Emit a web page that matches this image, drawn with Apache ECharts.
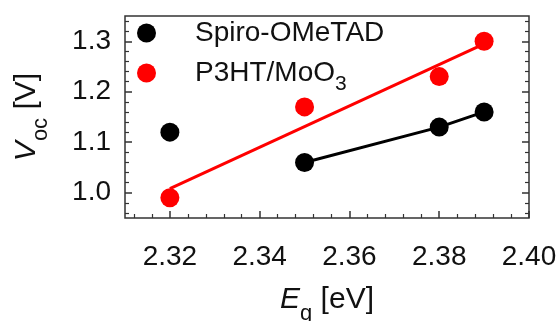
<!DOCTYPE html>
<html>
<head>
<meta charset="utf-8">
<script src="https://cdn.jsdelivr.net/npm/echarts@6/dist/echarts.min.js"></script>
<style>
  html, body { margin: 0; padding: 0; background: #fff; }
  #chart { width: 556px; height: 321px; }
</style>
</head>
<body>
<div id="chart"></div>
<script>
// measured points (Eg [eV], Voc [V])
const spiroPts = [[2.32, 1.12], [2.35, 1.06], [2.38, 1.13], [2.39, 1.16]];
const p3htPts = [[2.32, 0.99], [2.35, 1.17], [2.38, 1.23], [2.39, 1.30]];

// lines drawn in the figure
const spiroLine = [[2.35, 1.06], [2.38, 1.13], [2.39, 1.16]];
const p3htLine = [[2.32, 1.008], [2.39, 1.295]];

// axis ticks
const xMajor = [2.32, 2.34, 2.36, 2.38, 2.40];
const xMinor = [2.312, 2.316, 2.324, 2.328, 2.332, 2.336, 2.344, 2.348, 2.352, 2.356,
  2.364, 2.368, 2.372, 2.376, 2.384, 2.388, 2.392, 2.396];
const yMajor = [1.0, 1.1, 1.2, 1.3];
const yMinor = [0.96, 0.98, 1.02, 1.04, 1.06, 1.08, 1.12, 1.14, 1.16, 1.18,
  1.22, 1.24, 1.26, 1.28, 1.32, 1.34];

const FONT = "Liberation Sans";
const TXT = "#111";
const FRAME = "#333";

const chart = echarts.init(document.getElementById("chart"));

const xBase = { type: "value", min: 2.31, max: 2.40, gridIndex: 0, position: "bottom", splitLine: { show: false }, axisLine: { show: false } };
const yBase = { type: "value", min: 0.95, max: 1.35, gridIndex: 0, splitLine: { show: false }, axisLine: { show: false } };

// rich styles for titles with a subscript (small token height + bottom align pushes it down)
const titleRich = {
  i: { fontFamily: FONT, fontSize: 30, fontStyle: "italic", color: TXT, lineHeight: 32 },
  s: { fontFamily: FONT, fontSize: 22, color: TXT, height: 4, lineHeight: 4, verticalAlign: "bottom" },
  n: { fontFamily: FONT, fontSize: 30, color: TXT, lineHeight: 32 },
};

const option = {
  animation: false,
  backgroundColor: "#fff",
  grid: {
    left: 125, right: 27, top: 16, bottom: 103,
    outerBoundsMode: "none",
    show: true, borderColor: FRAME, borderWidth: 1.5, backgroundColor: "transparent",
  },
  legend: {
    orient: "vertical",
    left: 137,
    top: 19,
    padding: 0,
    itemWidth: 19,
    itemHeight: 19,
    itemGap: 12,
    icon: "circle",
    data: ["Spiro-OMeTAD", "P3HT/MoO3"],
    formatter: (name) => name === "P3HT/MoO3" ? "{a|P3HT/MoO}{s|3}" : "{a|" + name + "}",
    textStyle: {
      fontFamily: FONT,
      fontSize: 28,
      color: TXT,
      rich: {
        a: { fontFamily: FONT, fontSize: 28, color: TXT, lineHeight: 30, padding: [0, 0, 0, 34] },
        s: { fontFamily: FONT, fontSize: 21, color: TXT, height: 8, lineHeight: 8, verticalAlign: "bottom" },
      },
    },
  },
  xAxis: [
    Object.assign({}, xBase, {
      name: "{i|E}{s|g}{n| [eV]}",
      nameLocation: "middle",
      nameGap: 66,
      nameTextStyle: { fontFamily: FONT, fontSize: 30, color: TXT, rich: titleRich },
      axisTick: { show: true, inside: true, length: 7, lineStyle: { color: FRAME, width: 1.5 }, customValues: xMajor },
      axisLabel: { show: true, customValues: xMajor, margin: 25, fontFamily: FONT, fontSize: 28, color: TXT, formatter: (v) => v.toFixed(2) },
    }),
    Object.assign({}, xBase, {
      axisTick: { show: true, inside: true, length: 4, lineStyle: { color: FRAME, width: 1.2 }, customValues: xMinor },
      axisLabel: { show: false },
    }),
  ],
  yAxis: [
    Object.assign({}, yBase, {
      position: "left",
      name: "{i|V}{s|oc}{n| [V]}",
      nameLocation: "middle",
      nameGap: 82,
      nameTextStyle: { fontFamily: FONT, fontSize: 30, color: TXT, rich: titleRich },
      axisTick: { show: true, inside: true, length: 7, lineStyle: { color: FRAME, width: 1.5 }, customValues: yMajor },
      axisLabel: { show: true, customValues: yMajor, margin: 14, fontFamily: FONT, fontSize: 28, color: TXT, formatter: (v) => v.toFixed(1) },
    }),
    Object.assign({}, yBase, {
      position: "left",
      axisTick: { show: true, inside: true, length: 4, lineStyle: { color: FRAME, width: 1.2 }, customValues: yMinor },
      axisLabel: { show: false },
    }),
    Object.assign({}, yBase, {
      position: "right",
      axisTick: { show: true, inside: true, length: 7, lineStyle: { color: FRAME, width: 1.5 }, customValues: yMajor },
      axisLabel: { show: false },
    }),
    Object.assign({}, yBase, {
      position: "right",
      axisTick: { show: true, inside: true, length: 4, lineStyle: { color: FRAME, width: 1.2 }, customValues: yMinor },
      axisLabel: { show: false },
    }),
  ],
  series: [
    {
      name: "spiro-line", type: "line", data: spiroLine, xAxisIndex: 0, yAxisIndex: 0,
      symbol: "none", lineStyle: { color: "#000", width: 3 }, z: 2,
    },
    {
      name: "p3ht-line", type: "line", data: p3htLine, xAxisIndex: 0, yAxisIndex: 0,
      symbol: "none", lineStyle: { color: "#ff0000", width: 3 }, z: 2,
    },
    {
      name: "Spiro-OMeTAD", type: "scatter", data: spiroPts, xAxisIndex: 0, yAxisIndex: 0,
      symbol: "circle", symbolSize: 19, itemStyle: { color: "#000", opacity: 1 }, z: 3,
    },
    {
      name: "P3HT/MoO3", type: "scatter", data: p3htPts, xAxisIndex: 0, yAxisIndex: 0,
      symbol: "circle", symbolSize: 19, itemStyle: { color: "#ff0000", opacity: 1 }, z: 3,
    },
  ],
};

chart.setOption(option);
</script>
</body>
</html>
